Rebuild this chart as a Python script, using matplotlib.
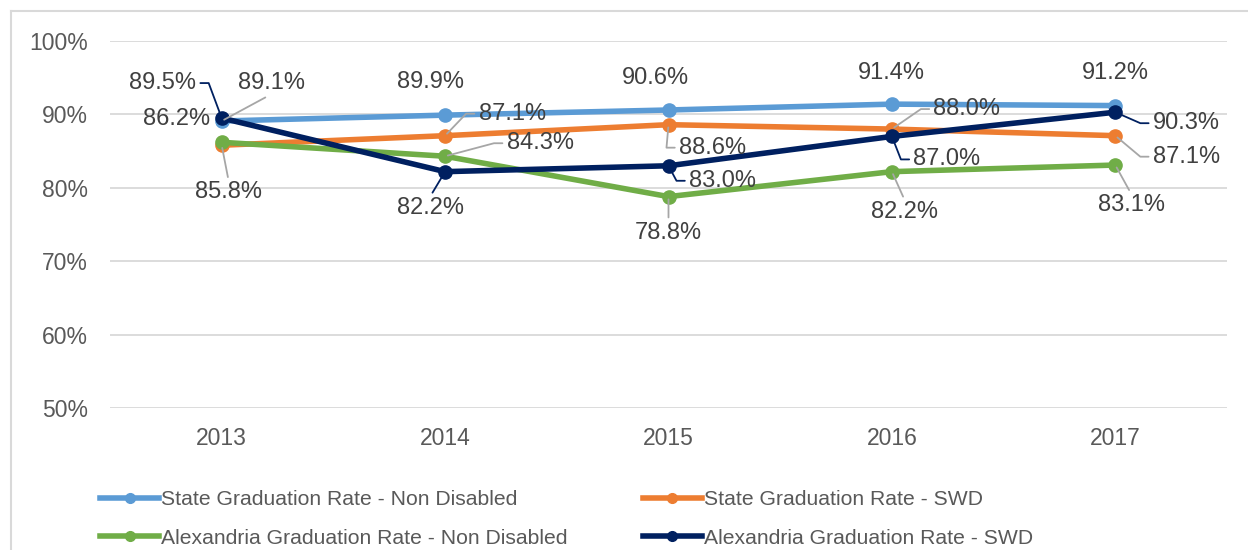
import math
import matplotlib.pyplot as plt
from matplotlib.lines import Line2D
from matplotlib.ticker import FuncFormatter

plt.rcParams['font.family'] = ['Liberation Sans', 'DejaVu Sans']

# data
years = ['2013', '2014', '2015', '2016', '2017']
state_non_disabled = [89.1, 89.9, 90.6, 91.4, 91.2]
state_swd = [85.8, 87.1, 88.6, 88.0, 87.1]
alex_non_disabled = [86.2, 84.3, 78.8, 82.2, 83.1]
alex_swd = [89.5, 82.2, 83.0, 87.0, 90.3]

names = ['State Graduation Rate - Non Disabled', 'State Graduation Rate - SWD',
         'Alexandria Graduation Rate - Non Disabled', 'Alexandria Graduation Rate - SWD']
colors = ['#5B9BD5', '#ED7D31', '#70AD47', '#002060']
leader_colors = ['#A6A6A6', '#A6A6A6', '#A6A6A6', '#002060']

# label offsets from each point, in pixels (x right, y down)
offsets = [
    [(50, -38), (-15, -33), (-13, -32), (-1, -31), (0, -33)],
    [(7, 47), (67, -22), (44, 23), (75, -20), (71, 21)],
    [(-45, -23), (95, -13), (0, 36), (13, 40), (16, 40)],
    [(-59, -35), (-15, 36), (54, 15), (55, 23), (71, 11)],
]
# leader line kind: 'h' = elbow from label side, 'v' = straight from label top/bottom, '' = none
leaders = [
    ['v', '', '', '', ''],
    ['v', 'h', 'h', 'h', 'h'],
    ['', 'h', 'v', 'v', 'v'],
    ['h', 'v', 'h', 'h', 'h'],
]

series = [state_non_disabled, state_swd, alex_non_disabled, alex_swd]

fig = plt.figure(figsize=(12.48, 5.5), dpi=100)
ax = fig.add_axes([110 / 1248, 1 - 408 / 550, 1117 / 1248, 367 / 550])

x = list(range(len(years)))
for i, vals in enumerate(series):
    ax.plot(x, vals, color=colors[i], lw=4, marker='o', ms=9.5,
            solid_capstyle='round', label=names[i], zorder=3 + i)

half_w = 34  # approx half width of a label in pixels
for i, vals in enumerate(series):
    for j, v in enumerate(vals):
        dx, dy = offsets[i][j]
        kind = leaders[i][j]
        arrow = None
        if kind == 'h':
            # leave the label horizontally, then go straight to the point
            side = 1 if dx > 0 else -1
            cx, cy = dx - side * (half_w + 12), -dy
            ang = math.degrees(math.atan2(cy, cx))
            arrow = dict(arrowstyle='-', color=leader_colors[i], lw=1.3,
                         shrinkA=1, shrinkB=2, relpos=(0.0 if dx > 0 else 1.0, 0.5),
                         connectionstyle=f'angle,angleA=0,angleB={ang:.1f},rad=0')
        elif kind == 'v':
            arrow = dict(arrowstyle='-', color=leader_colors[i], lw=1.3,
                         shrinkA=1, shrinkB=2, relpos=(0.5, 1.0 if dy > 0 else 0.0))
        ax.annotate(f'{v:.1f}%', (j, v), xytext=(dx, -dy), textcoords='offset pixels',
                    ha='center', va='center', fontsize=17, color='#404040',
                    arrowprops=arrow, zorder=10)

ax.set_xlim(-0.5, 4.5)
ax.set_ylim(50, 100)
ax.set_yticks(range(50, 101, 10))
ax.yaxis.set_major_formatter(FuncFormatter(lambda v, p: f'{v:.0f}%'))
ax.set_xticks(x)
ax.set_xticklabels(years)
ax.tick_params(axis='both', length=0, labelsize=16.5, labelcolor='#595959')
ax.tick_params(axis='y', pad=16)
ax.tick_params(axis='x', pad=14)
ax.grid(axis='y', color='#D9D9D9', lw=1.3)
ax.set_axisbelow(True)
for s in ax.spines.values():
    s.set_visible(False)

# chart border (left and top edges visible)
fig.add_artist(Line2D([11 / 1248, 11 / 1248], [0, 1 - 11 / 550], color='#D9D9D9', lw=1.5))
fig.add_artist(Line2D([11 / 1248, 1], [1 - 11 / 550, 1 - 11 / 550], color='#D9D9D9', lw=1.5))

# legend filled row by row
order = [0, 2, 1, 3]
handles = [Line2D([], [], color=colors[k], lw=4, marker='o', ms=7) for k in order]
fig.legend(handles, [names[k] for k in order], loc='upper left',
           bbox_to_anchor=(100 / 1248, 1 - 490 / 550),
           ncol=2, frameon=False, fontsize=15.2, handlelength=2.8, handletextpad=0.1,
           columnspacing=3.55, labelspacing=0.94, borderpad=0, borderaxespad=0,
           labelcolor='#595959')

fig.savefig('out.png', dpi=100)
